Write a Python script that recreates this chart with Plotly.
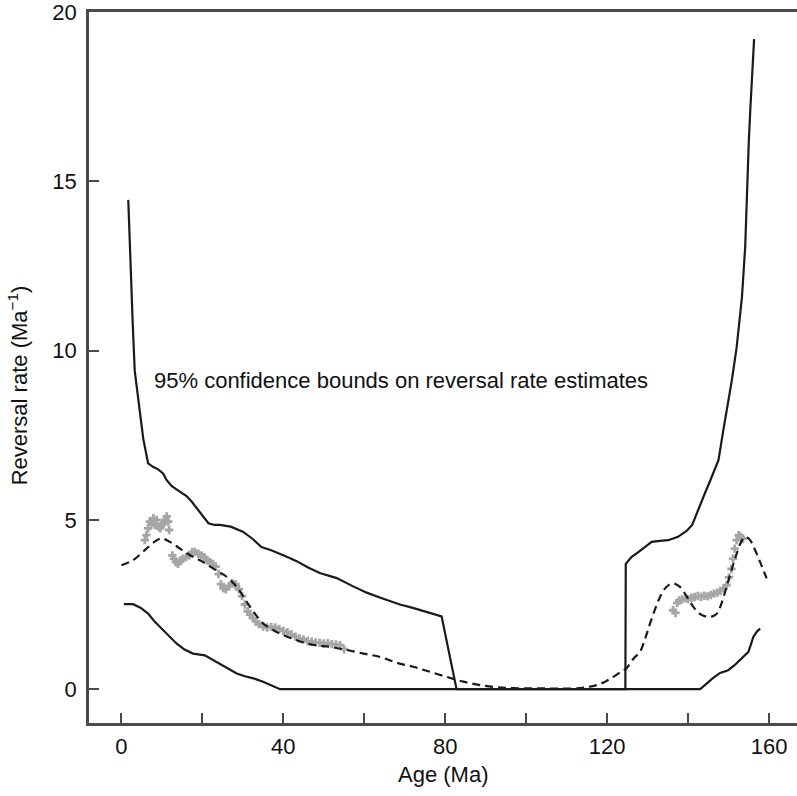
import plotly.graph_objects as go

# upper 95% bound
upper_age = [1.7, 2.1, 2.5, 2.8, 3.3, 4.2, 5.4, 6.6, 7.9, 9.0, 10.3, 11.2, 12.4, 13.6, 14.8,
             16.1, 17.3, 18.6, 20.0, 21.5, 23.0, 24.3, 27.0, 30.0, 32.3, 34.6, 37.0, 39.2,
             41.0, 43.3, 46.0, 49.0, 51.0, 53.2, 57.0, 60.6, 64.0, 68.8, 72.0, 75.5, 79.1,
             82.8, 100.0, 124.5, 124.6, 126.0, 127.7, 129.5, 131.0, 133.0, 135.1, 137.5,
             139.7, 141.0, 142.9, 144.2, 145.5, 147.5, 148.7, 150.8, 152.0, 153.3, 154.1,
             154.6, 155.0, 155.4, 155.8, 156.3]
upper_val = [14.45, 12.95, 11.8, 10.8, 9.4, 8.6, 7.4, 6.67, 6.56, 6.5, 6.37, 6.17, 6.0,
             5.9, 5.8, 5.7, 5.55, 5.35, 5.1, 4.9, 4.85, 4.85, 4.8, 4.65, 4.45, 4.2, 4.1,
             4.0, 3.9, 3.78, 3.6, 3.43, 3.35, 3.28, 3.05, 2.85, 2.7, 2.5, 2.4, 2.28, 2.15,
             0.0, 0.0, 0.0, 3.7, 3.9, 4.05, 4.2, 4.35, 4.38, 4.4, 4.5, 4.68, 4.85, 5.45,
             5.8, 6.17, 6.76, 7.65, 9.12, 10.1, 11.58, 13.06, 15.0, 16.2, 17.2, 18.2, 19.2]

# lower 95% bound
lower_age = [0.6, 2.9, 4.8, 6.6, 8.2, 9.9, 11.8, 13.6, 15.6, 17.7, 20.6, 22.4, 24.3, 26.4,
             28.5, 30.5, 32.6, 35.0, 37.2, 39.2, 143.0, 144.6, 146.2, 147.9, 149.9, 151.4,
             152.8, 154.9, 155.6, 156.1, 157.0, 157.8]
lower_val = [2.51, 2.51, 2.4, 2.23, 2.0, 1.8, 1.57, 1.35, 1.17, 1.05, 1.0, 0.88, 0.76, 0.6,
             0.46, 0.38, 0.32, 0.22, 0.1, 0.0, 0.0, 0.17, 0.33, 0.48, 0.56, 0.7, 0.86, 1.1,
             1.35, 1.54, 1.7, 1.79]

# smoothed rate estimate (dashed)
mean_age = [0, 2.9, 6.2, 8.5, 9.9, 12, 14.5, 16.9, 19.8, 22.7, 26, 28.5, 30.2, 31.8, 33.5,
            35, 37, 39.2, 42.5, 45.8, 48.5, 51.5, 55.5, 59.8, 63.9, 68, 72.1, 76, 80.4,
            84.5, 88.6, 92.5, 96.8, 105, 113.3, 115.5, 117.4, 119.5, 121.5, 123.5, 124.8,
            126.5, 128.1, 129.4, 130.6, 131.8, 133.1, 134.5, 135.9, 137, 138, 139.6, 141.3,
            143.2, 145, 146, 147.1, 148.3, 149.5, 150.8, 152, 153.1, 154.1, 155.2, 156.2,
            157.8, 159.4]
mean_val = [3.66, 3.81, 4.15, 4.38, 4.45, 4.35, 4.15, 3.96, 3.78, 3.56, 3.32, 3.02, 2.72,
            2.43, 2.15, 1.94, 1.78, 1.64, 1.48, 1.35, 1.29, 1.25, 1.16, 1.05, 0.95, 0.78,
            0.66, 0.52, 0.36, 0.22, 0.12, 0.06, 0.03, 0.02, 0.03, 0.07, 0.12, 0.22, 0.36,
            0.52, 0.62, 0.9, 1.1, 1.5, 1.94, 2.35, 2.73, 3.0, 3.12, 3.1, 3.02, 2.75, 2.43,
            2.2, 2.13, 2.15, 2.23, 2.55, 3.02, 3.55, 4.0, 4.35, 4.5, 4.42, 4.2, 3.75, 3.27]

# raw estimates (grey)
raw_age = [5.8, 6.2, 6.6, 7.0, 7.5, 7.9, 8.3, 8.7, 9.2, 9.6, 10.0, 10.4, 10.8, 11.2, 11.6,
           11.8, 12.6, 13.0, 13.5, 14.0, 14.6, 15.2, 16.0, 16.8, 17.5, 18.2, 19.0, 19.8,
           20.5, 21.2, 21.9, 22.6, 23.3, 24.0, 24.6, 25.2, 25.8, 26.6, 27.4, 28.2, 29.0,
           29.8, 30.5, 31.2, 31.8, 32.5, 33.2, 34.0, 35.0, 36.0, 37.0, 38.0, 39.0, 40.0,
           41.0, 42.0, 43.0, 44.0, 45.0, 46.0, 47.0, 48.0, 49.0, 50.0, 51.0, 52.0, 53.0,
           54.0, 55.0,
           136.3, 136.9, 137.3, 137.8, 138.5, 139.3, 140.0, 140.8, 141.6, 142.4, 143.2,
           144.0, 144.8, 145.6, 146.4, 147.2, 148.0, 148.8, 149.5, 150.1, 150.7, 151.1,
           151.5, 152.0, 152.5, 153.0, 153.5]
raw_val = [4.4, 4.55, 4.75, 4.95, 4.9, 5.05, 4.85, 5.0, 4.8, 4.75, 4.85, 4.9, 5.0, 5.1,
           4.95, 4.7, 3.95, 3.85, 3.75, 3.7, 3.8, 3.85, 3.9, 3.95, 4.05, 4.05, 4.0, 3.95,
           3.9, 3.8, 3.75, 3.7, 3.62, 3.4, 3.1, 2.98, 2.95, 3.05, 3.12, 3.1, 2.95, 2.75,
           2.5, 2.3, 2.2, 2.1, 2.0, 1.92, 1.85, 1.82, 1.84, 1.82, 1.78, 1.72, 1.68, 1.62,
           1.55, 1.5, 1.47, 1.42, 1.4, 1.38, 1.37, 1.35, 1.36, 1.33, 1.32, 1.3, 1.18,
           2.33, 2.25, 2.55, 2.62, 2.65, 2.68, 2.66, 2.7, 2.72, 2.75, 2.73, 2.76, 2.74,
           2.78, 2.82, 2.85, 2.9, 2.98, 3.07, 3.3, 3.55, 3.85, 4.15, 4.4, 4.55, 4.5, 4.45]

x_ticks = [0, 40, 80, 120, 160]
x_minor = [20, 60, 100, 140]
y_ticks = [0, 5, 10, 15, 20]

FONT = "Liberation Sans, Arial, sans-serif"
AX = "#4a4a4a"
INK = "#111111"

fig = go.Figure()
fig.add_trace(go.Scatter(x=raw_age, y=raw_val, mode="markers",
                         marker=dict(symbol="cross", size=7, color="#a6a6a6")))
fig.add_trace(go.Scatter(x=mean_age, y=mean_val, mode="lines",
                         line=dict(color="#1a1a1a", width=2.2, dash="8px,5px", shape="spline")))
fig.add_trace(go.Scatter(x=upper_age, y=upper_val, mode="lines",
                         line=dict(color="#1a1a1a", width=2.2)))
fig.add_trace(go.Scatter(x=lower_age, y=lower_val, mode="lines",
                         line=dict(color="#1a1a1a", width=2.2)))

fig.add_annotation(x=69, y=9.12, text="95% confidence bounds on reversal rate estimates",
                   showarrow=False, font=dict(size=22, color=INK))
fig.add_annotation(x=79.5, xref="x", y=-0.073, yref="paper", yanchor="middle",
                   text="Age (Ma)", showarrow=False, font=dict(size=22, color=INK))
fig.add_annotation(x=-0.1, xref="paper", xanchor="center", y=8.98, yref="y",
                   yanchor="middle", textangle=-90,
                   text="Reversal rate (Ma<sup>−1</sup>)", showarrow=False,
                   font=dict(size=22, color=INK))

fig.update_layout(
    width=797, height=796,
    margin=dict(l=89, r=0, t=12, b=73, autoexpand=False),
    plot_bgcolor="white", paper_bgcolor="white",
    showlegend=False,
    font=dict(family=FONT, size=22, color=INK),
    xaxis=dict(range=[-8, 166.9], tickvals=x_ticks,
               ticks="inside", ticklen=10, tickwidth=1.5, tickcolor=AX,
               minor=dict(tickvals=x_minor, ticks="inside", ticklen=10,
                          tickwidth=1.5, tickcolor=AX, showgrid=False),
               showline=True, linecolor=AX, linewidth=2.5, mirror=True,
               showgrid=False, zeroline=False, ticklabelstandoff=2,
               automargin=False, ticklabeloverflow="allow"),
    yaxis=dict(range=[-1, 20], tickvals=y_ticks,
               ticks="inside", ticklen=10, tickwidth=1.5, tickcolor=AX,
               showline=True, linecolor=AX, linewidth=2.5,
               showgrid=False, zeroline=False, ticklabelstandoff=5,
               automargin=False, ticklabeloverflow="allow"),
)

# page body has a default 8px margin; drop it so the figure fills the window
fig.write_html("out.html", config={"displayModeBar": False},
               post_script="document.body.style.margin='0';")
